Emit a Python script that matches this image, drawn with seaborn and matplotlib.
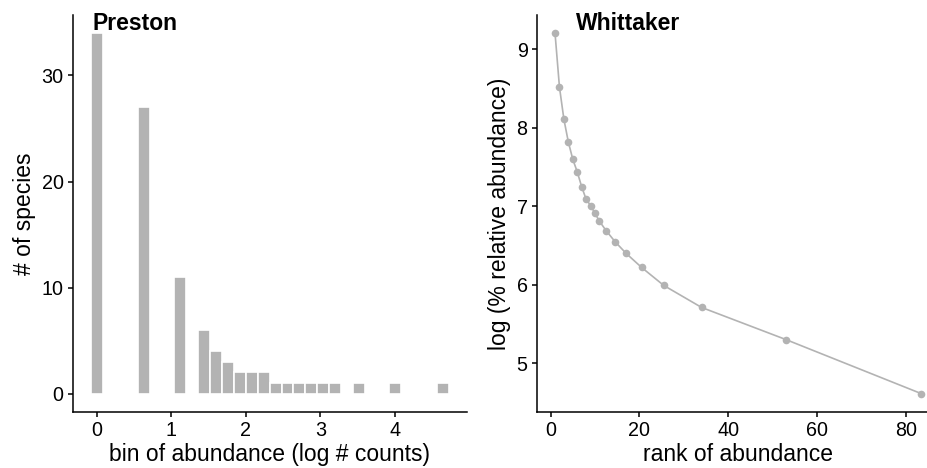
import numpy as np
import pandas as pd
import matplotlib
matplotlib.use("Agg")
import matplotlib.pyplot as plt
import seaborn as sns

# ---- data ----
# Preston: histogram bin centers (log # counts) and number of species per bin
bin_centers = [0.00, 0.64, 1.12, 1.44, 1.60, 1.76, 1.92, 2.08, 2.24, 2.40,
               2.56, 2.72, 2.88, 3.04, 3.20, 3.52, 4.00, 4.64]
species_counts = [34, 27, 11, 6, 4, 3, 2, 2, 2, 1, 1, 1, 1, 1, 1, 1, 1, 1]

# Whittaker: rank of abundance vs log(% relative abundance)
ranks = [1, 2, 3, 4, 5, 6, 7, 8, 9, 10, 11, 12.5, 14.5, 17, 20.5, 25.5, 34, 53, 83.5]
log_rel_abund = [9.21, 8.52, 8.11, 7.82, 7.60, 7.44, 7.25, 7.09, 7.01, 6.91, 6.81,
                 6.69, 6.55, 6.40, 6.22, 5.99, 5.71, 5.30, 4.61]

x_ticks_left = [0, 1, 2, 3, 4]
y_ticks_left = [0, 10, 20, 30]
x_ticks_right = [0, 20, 40, 60, 80]
y_ticks_right = [5, 6, 7, 8, 9]

sns.set_theme(style="ticks")
plt.rcParams['font.family'] = ['Liberation Sans', 'DejaVu Sans']
plt.rcParams['text.color'] = 'black'
plt.rcParams['axes.labelcolor'] = 'black'

W, H = 927, 468
fig = plt.figure(figsize=(W / 100, H / 100), dpi=100)

def fig_axes(x0, x1, y0, y1):
    return fig.add_axes([x0 / W, 1 - y1 / H, (x1 - x0) / W, (y1 - y0) / H])

ax1 = fig_axes(72.7, 466.5, 15, 411.7)
ax2 = fig_axes(536.7, 939.7, 15, 411.7)

grey = "#b3b3b3"
LABEL_FS = 16.5
TICK_FS = 14.2

# Left: Preston histogram
pres = pd.DataFrame({"bin": bin_centers, "n": species_counts})
sns.histplot(data=pres, x="bin", weights="n", bins=30, binrange=(-0.08, 4.72),
             color=grey, edgecolor="white", linewidth=1.2, alpha=1, ax=ax1)
ax1.set_xlim(-0.32, 4.96)
ax1.set_ylim(-1.7, 35.7)
ax1.set_xticks(x_ticks_left)
ax1.set_yticks(y_ticks_left)
ax1.set_xlabel("bin of abundance (log # counts)", fontsize=LABEL_FS, labelpad=2)
ax1.set_ylabel("# of species", fontsize=LABEL_FS, labelpad=4)

# Right: Whittaker rank-abundance
whit = pd.DataFrame({"rank": ranks, "abund": log_rel_abund})
sns.lineplot(data=whit, x="rank", y="abund", color=grey, linewidth=1.2,
             marker="o", markersize=5.5, markeredgewidth=0, ax=ax2)
ax2.set_xlim(-3.125, 87.625)
ax2.set_ylim(4.38, 9.44)
ax2.set_xticks(x_ticks_right)
ax2.set_yticks(y_ticks_right)
ax2.set_xlabel("rank of abundance", fontsize=LABEL_FS, labelpad=2)
ax2.set_ylabel("log (% relative abundance)", fontsize=LABEL_FS, labelpad=4)

for ax in (ax1, ax2):
    sns.despine(ax=ax)
    for s in ("left", "bottom"):
        ax.spines[s].set_linewidth(1.1)
        ax.spines[s].set_color("black")
    ax.tick_params(axis="both", length=3.6, width=1.1, color="black",
                   labelsize=TICK_FS, labelcolor="black", pad=3)

fig.text(93 / W, 1 - 30.5 / H, "Preston", fontsize=16.5, fontweight="bold",
         ha="left", va="baseline", color="black")
fig.text(576 / W, 1 - 30.5 / H, "Whittaker", fontsize=16.5, fontweight="bold",
         ha="left", va="baseline", color="black")

fig.savefig("out.png", dpi=100)
